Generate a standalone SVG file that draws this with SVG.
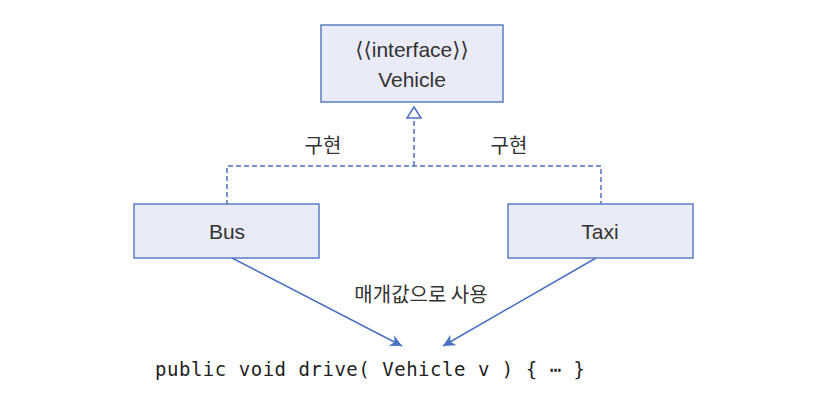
<svg xmlns="http://www.w3.org/2000/svg" width="818" height="414" viewBox="0 0 818 414">
<style>
.box{fill:#e9ebf7;stroke:#5b7cc4;stroke-width:1.5}
.t{font-family:"Liberation Sans","DejaVu Sans","Noto Sans CJK KR",sans-serif;font-size:21px;fill:#333;text-anchor:middle}
.k{font-family:"Noto Sans CJK KR",sans-serif;font-size:20px;fill:#333;text-anchor:middle}
.code{font-family:"DejaVu Sans Mono",monospace;font-size:19px;fill:#222}
.dash{fill:none;stroke:#4a70c0;stroke-width:1.5;stroke-dasharray:5,3}
.arr{stroke:#4a70c0;stroke-width:1.5;fill:none}
</style>
<defs>
<marker id="ah" viewBox="0 0 10 10" refX="10" refY="5" markerWidth="12" markerHeight="12" markerUnits="userSpaceOnUse" orient="auto">
<path d="M0,0 L10,5 L0,10 L3,5 Z" fill="#4a70c0"/>
</marker>
</defs>
<rect width="818" height="414" fill="#fff"/>
<g id="connectors">
<path class="dash" d="M227,205 V166 H601 V205"/>
<path class="dash" d="M414,166 V118"/>
<path d="M414,107 L421,118 L407,118 Z" fill="#fff" stroke="#4a70c0" stroke-width="1.5"/>
<line class="arr" x1="232" y1="258" x2="402" y2="346" marker-end="url(#ah)"/>
<line class="arr" x1="596" y1="258" x2="443" y2="346" marker-end="url(#ah)"/>
<text class="k" x="323" y="153">구현</text>
<text class="k" x="509" y="153">구현</text>
<text class="k" x="421" y="302">매개값으로 사용</text>
</g>
<g id="vehicle">
<rect class="box" x="321" y="25" width="182" height="77"/>
<text class="t" x="412" y="57">⟨⟨interface⟩⟩</text>
<text class="t" x="412" y="87">Vehicle</text>
</g>
<g id="bus">
<rect class="box" x="134" y="204" width="185" height="54"/>
<text class="t" x="227" y="239">Bus</text>
</g>
<g id="taxi">
<rect class="box" x="508" y="204" width="185" height="54"/>
<text class="t" x="600" y="239">Taxi</text>
</g>
<g id="code">
<text class="code" x="155" y="376" textLength="430" lengthAdjust="spacing">public void drive( Vehicle v ) { ⋯ }</text>
</g>
</svg>
